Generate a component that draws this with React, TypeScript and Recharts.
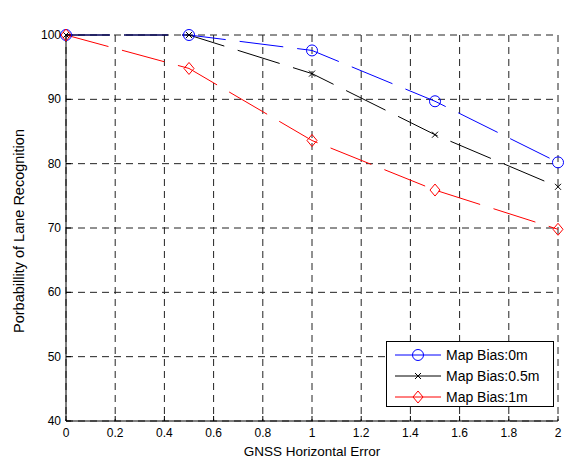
import React from 'react';
import { LineChart, Line, XAxis, YAxis, CartesianGrid, Legend } from 'recharts';

// GNSS horizontal error (m) and recognition probability (%) per map bias
const errors = [0, 0.5, 1, 1.5, 2];
const bias0m = [100, 100, 97.6, 89.7, 80.2];
const bias05m = [100, 100, 94.0, 84.5, 76.4];
const bias1m = [100, 94.8, 83.6, 75.9, 69.8];

const xTicks = [0, 0.2, 0.4, 0.6, 0.8, 1, 1.2, 1.4, 1.6, 1.8, 2];
const yTicks = [40, 50, 60, 70, 80, 90, 100];

const seriesInfo = [
  { key: 'b0', name: 'Map Bias:0m', color: '#0000ff', marker: 'circle' },
  { key: 'b05', name: 'Map Bias:0.5m', color: '#000000', marker: 'cross' },
  { key: 'b1', name: 'Map Bias:1m', color: '#ff0000', marker: 'diamond' },
];

const data = errors.map((e, i) => ({
  err: e,
  b0: bias0m[i],
  b05: bias05m[i],
  b1: bias1m[i],
}));

const FONT = '"Liberation Sans", Arial, Helvetica, sans-serif';
const TICK_LEN = 5;

const Marker = ({ type, cx, cy, color }: any) => {
  if (type === 'circle') {
    return <circle cx={cx} cy={cy} r={5.5} fill="none" stroke={color} strokeWidth={1} />;
  }
  if (type === 'diamond') {
    return (
      <path
        d={`M${cx},${cy - 6}L${cx + 5},${cy}L${cx},${cy + 6}L${cx - 5},${cy}Z`}
        fill="none"
        stroke={color}
        strokeWidth={1}
      />
    );
  }
  return (
    <path
      d={`M${cx - 3},${cy - 3}L${cx + 3},${cy + 3}M${cx - 3},${cy + 3}L${cx + 3},${cy - 3}`}
      stroke={color}
      strokeWidth={1}
    />
  );
};

const makeDot = (type: string, color: string) => (props: any) => (
  <Marker key={`${type}-${props.index}`} type={type} cx={props.cx} cy={props.cy} color={color} />
);

// ticks drawn inward, matlab style
const BottomTick = ({ x, y, payload }: any) => (
  <g>
    <line x1={x} x2={x} y1={y} y2={y - TICK_LEN} stroke="#000" />
    <text x={x} y={y + 16} textAnchor="middle" fontSize={12} fontFamily={FONT} fill="#000">
      {payload.value}
    </text>
  </g>
);

const TopTick = ({ x, y }: any) => (
  <line x1={x} x2={x} y1={y} y2={y + TICK_LEN} stroke="#000" />
);

const LeftTick = ({ x, y, payload }: any) => (
  <g>
    <line x1={x} x2={x + TICK_LEN} y1={y} y2={y} stroke="#000" />
    <text x={x - 5} y={y + 4} textAnchor="end" fontSize={12} fontFamily={FONT} fill="#000">
      {payload.value}
    </text>
  </g>
);

const RightTick = ({ x, y }: any) => (
  <line x1={x} x2={x - TICK_LEN} y1={y} y2={y} stroke="#000" />
);

const LegendBox = () => (
  <div
    style={{
      border: '1px solid #000',
      background: '#fff',
      width: 168,
      height: 66,
      boxSizing: 'border-box',
      paddingTop: 2,
      fontFamily: FONT,
      fontSize: 14,
    }}
  >
    {seriesInfo.map((s) => (
      <div key={s.key} style={{ display: 'flex', alignItems: 'center', height: 21 }}>
        <svg width={50} height={14} style={{ marginLeft: 8 }}>
          <line x1={0} x2={46} y1={7} y2={7} stroke={s.color} />
          <Marker type={s.marker} cx={23} cy={7} color={s.color} />
        </svg>
        <span style={{ marginLeft: 1 }}>{s.name}</span>
      </div>
    ))}
  </div>
);

export default function App() {
  return (
    <div style={{ position: 'absolute', left: 0, top: 0, background: '#fff' }}>
      <LineChart
        width={566}
        height={460}
        data={data}
        margin={{ top: 35, right: 8, left: 0, bottom: 0 }}
        style={{ fontFamily: FONT }}
      >
        <CartesianGrid
          stroke="#222"
          strokeDasharray="7 5"
          verticalValues={xTicks}
          horizontalValues={yTicks}
        />
        <XAxis
          dataKey="err"
          type="number"
          domain={[0, 2]}
          ticks={xTicks}
          interval={0}
          height={39}
          tickSize={0}
          tickMargin={0}
          tick={<BottomTick />}
          axisLine={{ stroke: '#000' }}
          label={{
            value: 'GNSS Horizontal Error',
            position: 'insideBottom',
            offset: 4,
            fontSize: 13.5,
            fill: '#000',
          }}
        />
        <XAxis
          xAxisId="top"
          orientation="top"
          dataKey="err"
          type="number"
          domain={[0, 2]}
          ticks={xTicks}
          interval={0}
          height={0}
          tickSize={0}
          tickMargin={0}
          tick={<TopTick />}
          axisLine={{ stroke: '#000' }}
          label={{ value: 'Six Lane Road', position: 'top', offset: 13, fontSize: 14, fill: '#000' }}
        />
        <YAxis
          type="number"
          domain={[40, 100]}
          ticks={yTicks}
          interval={0}
          width={66}
          tickSize={0}
          tickMargin={0}
          tick={<LeftTick />}
          axisLine={{ stroke: '#000' }}
          label={{
            value: 'Porbabillity of Lane Recognition',
            angle: -90,
            position: 'center',
            dx: -14.5,
            dy: 3,
            fontSize: 14.5,
            fill: '#000',
          }}
        />
        <YAxis
          yAxisId="right"
          orientation="right"
          type="number"
          domain={[40, 100]}
          ticks={yTicks}
          interval={0}
          width={0}
          tickSize={0}
          tickMargin={0}
          tick={<RightTick />}
          axisLine={{ stroke: '#000' }}
        />
        <Legend
          layout="vertical"
          align="center"
          verticalAlign="middle"
          content={<LegendBox />}
          wrapperStyle={{ left: 386, top: 341, width: 168 }}
        />
        {seriesInfo.map((s) => (
          <Line
            key={s.key}
            dataKey={s.key}
            name={s.name}
            type="linear"
            stroke={s.color}
            strokeWidth={1}
            strokeDasharray="44 14"
            dot={makeDot(s.marker, s.color)}
            activeDot={false}
            isAnimationActive={false}
          />
        ))}
      </LineChart>
    </div>
  );
}
